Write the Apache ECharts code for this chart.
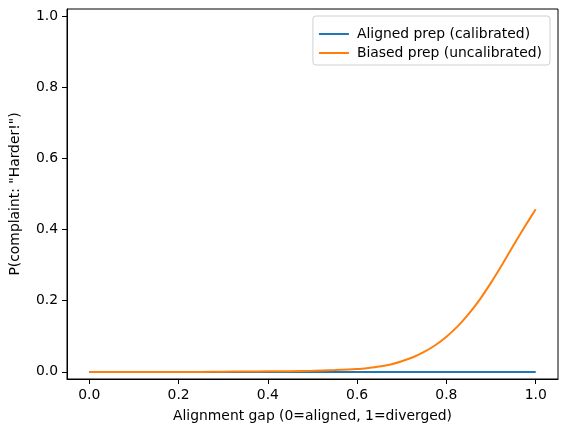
<!DOCTYPE html>
<html>
<head>
<meta charset="utf-8">
<script src="https://cdn.jsdelivr.net/npm/echarts@6/dist/echarts.min.js"></script>
<style>
    html, body { margin: 0; padding: 0; background: #fff; }
    #chart { width: 567px; height: 432px; }
</style>
</head>
<body>
<div id="chart"></div>
<script>
// alignment gap values (x)
const gaps = [0.000, 0.050, 0.100, 0.150, 0.200, 0.250, 0.300, 0.350, 0.400, 0.450, 0.500,
    0.550, 0.600, 0.625, 0.650, 0.675, 0.700, 0.725, 0.750, 0.775, 0.800,
    0.825, 0.850, 0.875, 0.900, 0.925, 0.950, 0.975, 1.000];
// calibrated prep: flat at zero
const alignedProb = [0, 0, 0, 0, 0, 0, 0, 0, 0, 0, 0,
    0, 0, 0, 0, 0, 0, 0, 0, 0, 0,
    0, 0, 0, 0, 0, 0, 0, 0];
// uncalibrated prep
const biasedProb = [0.000, 0.000, 0.000, 0.000, 0.000, 0.000, 0.0005, 0.001, 0.0015, 0.002, 0.003,
    0.005, 0.008, 0.011, 0.015, 0.021, 0.030, 0.041, 0.056, 0.075, 0.099,
    0.128, 0.163, 0.204, 0.251, 0.302, 0.355, 0.407, 0.457];
const xTicks = [0, 0.2, 0.4, 0.6, 0.8, 1.0];
const yTicks = [0, 0.2, 0.4, 0.6, 0.8, 1.0];

const font = 'DejaVu Sans';
const fs = 13.9;

(function () {
    const chart = echarts.init(document.getElementById('chart'));

    const pair = function (ys) {
        return gaps.map(function (x, i) { return [x, ys[i]]; });
    };

    const option = {
        animation: false,
        textStyle: { fontFamily: font },
        grid: {
            left: 61, right: 9, top: 9, bottom: 53,
            show: true, borderColor: '#000', borderWidth: 1, backgroundColor: 'transparent'
        },
        legend: {
            orient: 'vertical',
            right: 17, top: 16,
            padding: [10, 8, 4, 6],
            itemGap: 3,
            itemWidth: 30, itemHeight: 2,
            icon: 'rect',
            borderColor: '#d0d0d0', borderWidth: 1, borderRadius: 3,
            backgroundColor: 'rgba(255,255,255,0.8)',
            textStyle: { fontFamily: font, fontSize: fs, lineHeight: 16, color: '#000', padding: [0, 0, 0, 3] },
            data: ['Aligned prep (calibrated)', 'Biased prep (uncalibrated)']
        },
        xAxis: {
            type: 'value', min: -0.05, max: 1.05,
            name: 'Alignment gap (0=aligned, 1=diverged)',
            nameLocation: 'middle', nameGap: 30,
            nameTextStyle: { fontFamily: font, fontSize: fs, color: '#000', verticalAlign: 'top' },
            axisLine: { show: true, onZero: false, lineStyle: { color: '#000' } },
            axisTick: { show: true, length: 5, customValues: xTicks, lineStyle: { color: '#000' } },
            axisLabel: {
                customValues: xTicks, margin: 9,
                fontFamily: font, fontSize: fs, color: '#000',
                formatter: function (v) { return v.toFixed(1); }
            },
            splitLine: { show: false }
        },
        yAxis: {
            type: 'value', min: -0.02, max: 1.02,
            name: 'P(complaint: "Harder!")',
            nameLocation: 'middle', nameGap: 45, nameRotate: 90,
            nameTextStyle: { fontFamily: font, fontSize: fs, color: '#000' },
            axisLine: { show: true, onZero: false, lineStyle: { color: '#000' } },
            axisTick: { show: true, length: 5, customValues: yTicks, lineStyle: { color: '#000' } },
            axisLabel: {
                customValues: yTicks, margin: 9,
                fontFamily: font, fontSize: fs, color: '#000',
                formatter: function (v) { return v.toFixed(1); }
            },
            splitLine: { show: false }
        },
        series: [{
            name: 'Aligned prep (calibrated)',
            type: 'line',
            data: pair(alignedProb),
            symbol: 'none',
            color: '#1f77b4',
            lineStyle: { width: 2, color: '#1f77b4' }
        }, {
            name: 'Biased prep (uncalibrated)',
            type: 'line',
            data: pair(biasedProb),
            symbol: 'none',
            smooth: 0.3,
            color: '#ff7f0e',
            lineStyle: { width: 2, color: '#ff7f0e' }
        }]
    };

    chart.setOption(option);
})();
</script>
</body>
</html>
